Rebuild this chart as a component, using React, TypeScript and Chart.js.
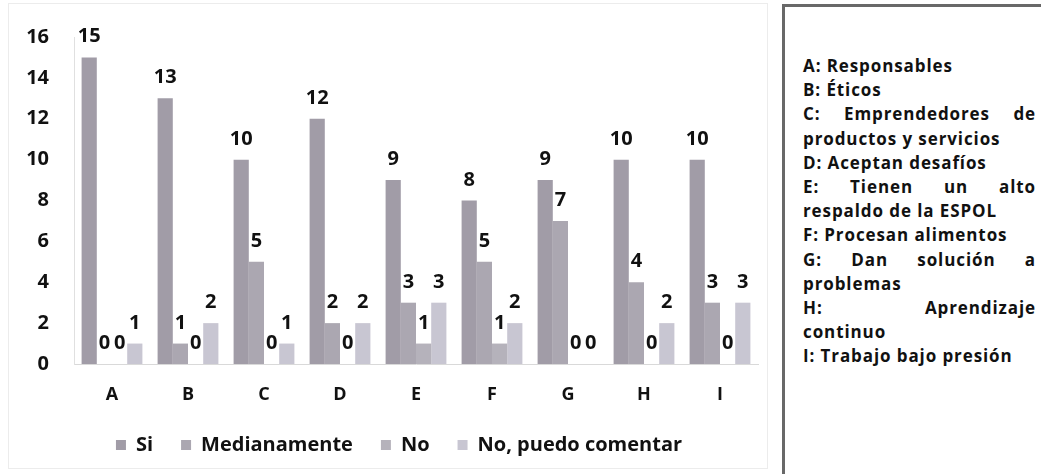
import React, { useEffect, useRef } from "react";
import { Chart, registerables } from "chart.js";

Chart.register(...registerables);

const categories = ["A", "B", "C", "D", "E", "F", "G", "H", "I"];
const seriesNames = ["Si", "Medianamente", "No", "No, puedo comentar"];
const siValues = [15, 13, 10, 12, 9, 8, 9, 10, 10];
const medianamenteValues = [0, 1, 5, 2, 3, 5, 7, 4, 3];
const noValues = [0, 0, 0, 0, 1, 1, 0, 0, 0];
const noComentarValues = [1, 2, 1, 2, 3, 2, 0, 2, 3];
const seriesColors = ["#a19ca7", "#aba7b1", "#b5b2bb", "#c8c6d2"];
const yTicks = [0, 2, 4, 6, 8, 10, 12, 14, 16];

const keyLines: { text: string; justify: boolean }[] = [
  { text: "A: Responsables", justify: false },
  { text: "B: Éticos", justify: false },
  { text: "C: Emprendedores de", justify: true },
  { text: "productos y servicios", justify: false },
  { text: "D: Aceptan desafíos", justify: false },
  { text: "E: Tienen un alto", justify: true },
  { text: "respaldo de la ESPOL", justify: false },
  { text: "F: Procesan alimentos", justify: false },
  { text: "G: Dan solución a", justify: true },
  { text: "problemas", justify: false },
  { text: "H: Aprendizaje", justify: true },
  { text: "continuo", justify: false },
  { text: "I: Trabajo bajo presión", justify: false },
];

const FONT = "'Open Sans', sans-serif";

const valueLabels = {
  id: "valueLabels",
  afterDatasetsDraw(chart: any) {
    const ctx = chart.ctx;
    ctx.save();
    ctx.font = `bold 20px ${FONT}`;
    ctx.fillStyle = "#111";
    ctx.textAlign = "center";
    ctx.textBaseline = "alphabetic";
    chart.data.datasets.forEach((ds: any, i: number) => {
      const meta = chart.getDatasetMeta(i);
      meta.data.forEach((el: any, j: number) => {
        ctx.fillText(String(ds.data[j]), el.x, el.y - 15);
      });
    });
    ctx.restore();
  },
};

const shiftLegend = {
  id: "shiftLegend",
  afterLayout(chart: any) {
    if (chart.legend) {
      chart.legend.left += 10;
      chart.legend.right += 10;
    }
  },
};

export default function App() {
  const ref = useRef<HTMLCanvasElement | null>(null);

  useEffect(() => {
    document.body.style.margin = "0";
    const canvas = ref.current;
    if (!canvas) return;
    const allValues = [siValues, medianamenteValues, noValues, noComentarValues];
    const chart = new Chart(canvas, {
      type: "bar",
      data: {
        labels: categories,
        datasets: seriesNames.map((name, i) => ({
          label: name,
          data: allValues[i],
          backgroundColor: seriesColors[i],
          borderWidth: 0,
          categoryPercentage: 0.8,
          barPercentage: 1.0,
        })),
      },
      options: {
        responsive: false,
        animation: false,
        layout: { padding: { top: 28, right: 12, left: 20, bottom: 25 } },
        plugins: {
          tooltip: { enabled: false },
          legend: {
            position: "bottom",
            labels: {
              boxWidth: 10,
              boxHeight: 10,
              padding: 28,
              color: "#111",
              font: { family: FONT, size: 20, weight: "bold" },
            },
          },
        },
        scales: {
          x: {
            grid: { display: false, drawTicks: false },
            border: { display: true, color: "#d9d9d9" },
            ticks: { color: "#111", padding: 20, font: { family: FONT, size: 18, weight: "bold" } },
            afterFit: (scale: any) => {
              scale.height = 43;
            },
          },
          y: {
            min: 0,
            max: 16,
            grid: { display: false, drawTicks: false },
            border: { display: true, color: "#e0e0e0" },
            afterBuildTicks: (scale: any) => {
              scale.ticks = yTicks.map((v) => ({ value: v }));
            },
            ticks: { color: "#111", padding: 25, font: { family: FONT, size: 20, weight: "bold" } },
            afterFit: (scale: any) => {
              scale.width = 54;
            },
          },
        },
      },
      plugins: [valueLabels, shiftLegend],
    });
    return () => chart.destroy();
  }, []);

  return (
    <div style={{ position: "relative", width: 1041, height: 474, overflow: "hidden", background: "#fff" }}>
      <div
        style={{
          position: "absolute",
          left: 8,
          top: 3,
          width: 760,
          height: 466,
          border: "1px solid #ececec",
          boxSizing: "border-box",
        }}
      />
      <canvas ref={ref} width={770} height={490} style={{ position: "absolute", left: 0, top: 0 }} />
      <div
        style={{
          position: "absolute",
          left: 782,
          top: 4,
          width: 300,
          height: 500,
          borderLeft: "3px solid #686868",
          borderTop: "3px solid #686868",
          boxSizing: "border-box",
        }}
      />
      <div
        style={{
          position: "absolute",
          left: 803,
          top: 54,
          width: 233,
          fontFamily: FONT,
          fontWeight: "bold",
          fontSize: 17,
          letterSpacing: "0.9px",
          lineHeight: "24.2px",
          color: "#111",
        }}
      >
        {keyLines.map((l, i) => (
          <div
            key={i}
            style={{
              textAlign: l.justify ? "justify" : "left",
              textAlignLast: l.justify ? "justify" : "left",
              whiteSpace: "nowrap",
            } as React.CSSProperties}
          >
            {l.text}
          </div>
        ))}
      </div>
    </div>
  );
}
